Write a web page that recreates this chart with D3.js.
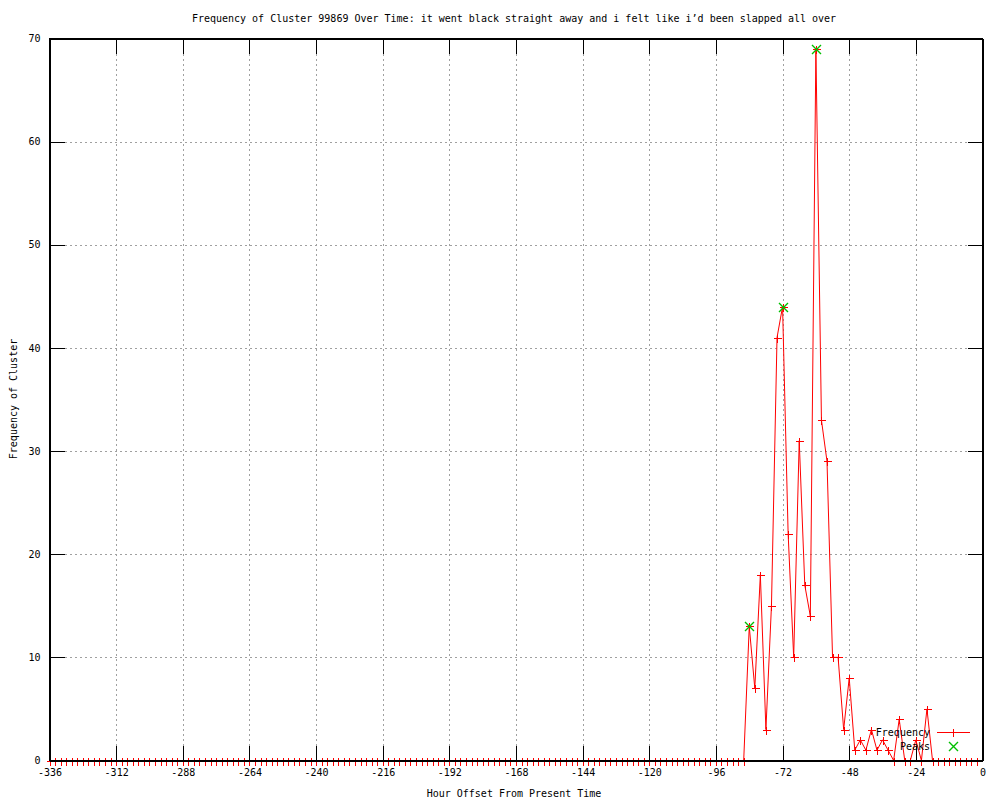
<!DOCTYPE html>
<html>
<head>
<meta charset="utf-8">
<script src="https://cdn.jsdelivr.net/npm/d3@7"></script>
<style>
  html, body { margin: 0; padding: 0; background: #fff; }
  text { font-family: "DejaVu Sans Mono", "Liberation Mono", monospace; font-size: 10px; fill: #000; }
</style>
</head>
<body>
<svg id="chart" width="1000" height="800"></svg>
<script>
// ---- data ----
const titleText = "Frequency of Cluster 99869 Over Time: it went black straight away and i felt like i’d been slapped all over";
const xLabel = "Hour Offset From Present Time";
const yLabel = "Frequency of Cluster";

const hours = [
  -336,-334,-332,-330,-328,-326,-324,-322,-320,-318,-316,-314,-312,-310,-308,-306,-304,-302,-300,-298,
  -296,-294,-292,-290,-288,-286,-284,-282,-280,-278,-276,-274,-272,-270,-268,-266,-264,-262,-260,-258,
  -256,-254,-252,-250,-248,-246,-244,-242,-240,-238,-236,-234,-232,-230,-228,-226,-224,-222,-220,-218,
  -216,-214,-212,-210,-208,-206,-204,-202,-200,-198,-196,-194,-192,-190,-188,-186,-184,-182,-180,-178,
  -176,-174,-172,-170,-168,-166,-164,-162,-160,-158,-156,-154,-152,-150,-148,-146,-144,-142,-140,-138,
  -136,-134,-132,-130,-128,-126,-124,-122,-120,-118,-116,-114,-112,-110,-108,-106,-104,-102,-100,-98,
  -96,-94,-92,-90,-88,-86,-84,-82,-80,-78,-76,-74,-72,-70,-68,-66,-64,-62,-60,-58,
  -56,-54,-52,-50,-48,-46,-44,-42,-40,-38,-36,-34,-32,-30,-28,-26,-24,-22,-20,-18,
  -16,-14,-12,-10,-8,-6,-4,-2
];
const frequency = [
  0,0,0,0,0,0,0,0,0,0,0,0,0,0,0,0,0,0,0,0,
  0,0,0,0,0,0,0,0,0,0,0,0,0,0,0,0,0,0,0,0,
  0,0,0,0,0,0,0,0,0,0,0,0,0,0,0,0,0,0,0,0,
  0,0,0,0,0,0,0,0,0,0,0,0,0,0,0,0,0,0,0,0,
  0,0,0,0,0,0,0,0,0,0,0,0,0,0,0,0,0,0,0,0,
  0,0,0,0,0,0,0,0,0,0,0,0,0,0,0,0,0,0,0,0,
  0,0,0,0,0,0,13,7,18,3,15,41,44,22,10,31,17,14,69,33,
  29,10,10,3,8,1,2,1,3,1,2,1,0,4,0,0,2,0,5,0,
  0,0,0,0,0,0,0,0
];
const peakHours = [-84, -72, -60];
const peakValues = [13, 44, 69];

const xTicks = [-336,-312,-288,-264,-240,-216,-192,-168,-144,-120,-96,-72,-48,-24,0];
const yTicks = [0,10,20,30,40,50,60,70];
const legendLabels = ["Frequency", "Peaks"];

// ---- layout ----
const svg = d3.select("#chart");
const L = 49.5, R = 982.5, T = 38.5, B = 760.5;
const x = d3.scaleLinear().domain([-336, 0]).range([L, R]);
const y = d3.scaleLinear().domain([0, 70]).range([B, T]);

svg.append("rect").attr("width", 1000).attr("height", 800).attr("fill", "#fff");

// grid
const grid = svg.append("g").attr("stroke", "#a0a0a0").attr("stroke-width", 1)
  .attr("stroke-dasharray", "2,3").attr("shape-rendering", "crispEdges");
grid.selectAll("line.gx").data(xTicks.filter(d => d !== -336 && d !== 0)).join("line")
  .attr("x1", d => Math.round(x(d)) + 0.5).attr("x2", d => Math.round(x(d)) + 0.5)
  .attr("y1", T).attr("y2", B);
grid.selectAll("line.gy").data(yTicks.filter(d => d !== 0 && d !== 70)).join("line")
  .attr("x1", L).attr("x2", R)
  .attr("y1", d => Math.round(y(d)) + 0.5).attr("y2", d => Math.round(y(d)) + 0.5);

// data line
const pts = hours.map((h, i) => [h, frequency[i]]);
svg.append("path").datum(pts)
  .attr("fill", "none").attr("stroke", "#ff0000").attr("stroke-width", 1)
  .attr("d", d3.line().x(d => x(d[0])).y(d => y(d[1])));

const crossPath = "M-4,0H4M0,-4V4";
svg.append("g").attr("shape-rendering", "crispEdges").selectAll("path").data(pts).join("path")
  .attr("transform", d => `translate(${Math.round(x(d[0])) + 0.5},${Math.round(y(d[1])) + 0.5})`)
  .attr("d", crossPath).attr("stroke", "#ff0000").attr("stroke-width", 1).attr("fill", "none");

// peaks
const xPath = "M-4.5,-4.5L4.5,4.5M-4.5,4.5L4.5,-4.5";
svg.append("g").selectAll("path").data(peakHours.map((h, i) => [h, peakValues[i]])).join("path")
  .attr("transform", d => `translate(${Math.round(x(d[0])) + 0.5},${Math.round(y(d[1])) + 0.5})`)
  .attr("d", xPath).attr("stroke", "#00c000").attr("stroke-width", 1.4).attr("fill", "none");

// axes
const fmt = d => String(d);
const axB = svg.append("g").attr("transform", `translate(0,${B})`)
  .call(d3.axisBottom(x).tickValues(xTicks).tickFormat(fmt).tickSize(-15).tickSizeOuter(0).tickPadding(8));
const axT = svg.append("g").attr("transform", `translate(0,${T})`)
  .call(d3.axisTop(x).tickValues(xTicks).tickFormat("").tickSize(-15).tickSizeOuter(0));
const axL = svg.append("g").attr("transform", `translate(${L},0)`)
  .call(d3.axisLeft(y).tickValues(yTicks).tickFormat(fmt).tickSize(-15).tickSizeOuter(0).tickPadding(9));
const axR = svg.append("g").attr("transform", `translate(${R},0)`)
  .call(d3.axisRight(y).tickValues(yTicks).tickFormat("").tickSize(-15).tickSizeOuter(0));
[axB, axT, axL, axR].forEach(g => {
  g.attr("shape-rendering", "crispEdges");
  g.select(".domain").attr("stroke", "#000");
  g.selectAll(".tick line").attr("stroke", "#000");
  g.selectAll("text").attr("font-family", null).attr("font-size", null).attr("fill", "#000");
});

// border on top
svg.append("rect").attr("x", L).attr("y", T).attr("width", R - L).attr("height", B - T)
  .attr("fill", "none").attr("stroke", "#000").attr("stroke-width", 1).attr("shape-rendering", "crispEdges");

// title & axis labels
svg.append("text").attr("x", 514).attr("y", 22).attr("text-anchor", "middle").text(titleText);
svg.append("text").attr("x", 514).attr("y", 797).attr("text-anchor", "middle").text(xLabel);
svg.append("text").attr("transform", "translate(17,399) rotate(-90)").attr("text-anchor", "middle").text(yLabel);

// legend
const lg = svg.append("g");
lg.append("text").attr("x", 930).attr("y", 736).attr("text-anchor", "end").text(legendLabels[0]);
lg.append("line").attr("x1", 937).attr("x2", 970).attr("y1", 732.5).attr("y2", 732.5)
  .attr("stroke", "#ff0000").attr("stroke-width", 1).attr("shape-rendering", "crispEdges");
lg.append("path").attr("transform", "translate(953.5,732.5)").attr("d", crossPath)
  .attr("stroke", "#ff0000").attr("fill", "none").attr("shape-rendering", "crispEdges");
lg.append("text").attr("x", 930).attr("y", 750).attr("text-anchor", "end").text(legendLabels[1]);
lg.append("path").attr("transform", "translate(953.5,746.5)").attr("d", xPath)
  .attr("stroke", "#00c000").attr("stroke-width", 1.4).attr("fill", "none");
</script>
</body>
</html>
